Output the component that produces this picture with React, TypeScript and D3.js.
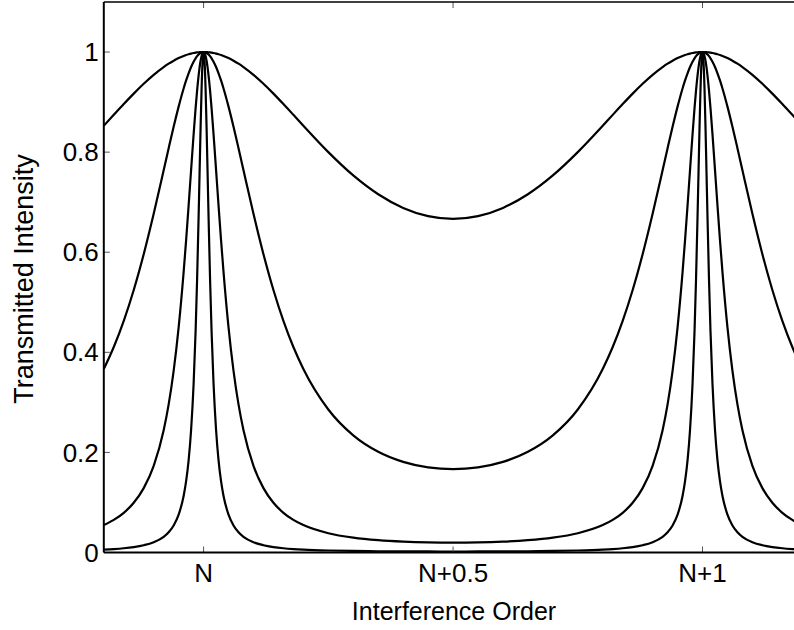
import React from "react";
import * as d3 from "d3";

// Interference orders where the transmission peaks sit
const peakOrders = [0, 1];
// Distance from the nearest peak (in orders) at which values were read
const offsets = [0, 0.001, 0.002, 0.004, 0.006, 0.008, 0.01, 0.013, 0.016, 0.02, 0.025, 0.03, 0.035, 0.04, 0.05, 0.06, 0.07, 0.08, 0.1, 0.12, 0.14, 0.16, 0.18, 0.2, 0.25, 0.3, 0.35, 0.4, 0.45, 0.5];
// Transmitted intensity at each offset, one profile per curve
const curveA = [1, 1, 0.99998, 0.99992, 0.99982, 0.99968, 0.99951, 0.99917, 0.99874, 0.99803, 0.99693, 0.99559, 0.99401, 0.99221, 0.98791, 0.98275, 0.97676, 0.97, 0.95443, 0.93654, 0.91689, 0.89602, 0.87447, 0.8527, 0.8, 0.75344, 0.71585, 0.68858, 0.67215, 0.66667];
const curveB = [1, 0.99995, 0.9998, 0.99921, 0.99823, 0.99685, 0.99509, 0.99173, 0.98753, 0.98067, 0.97014, 0.9576, 0.94321, 0.92718, 0.89098, 0.85066, 0.8078, 0.7638, 0.67684, 0.5961, 0.52454, 0.46287, 0.41059, 0.36664, 0.28571, 0.23405, 0.20123, 0.18108, 0.17014, 0.16667];
const curveC = [1, 0.99951, 0.99803, 0.99217, 0.98254, 0.96939, 0.95299, 0.92306, 0.88792, 0.83533, 0.76465, 0.69309, 0.62418, 0.5601, 0.44972, 0.3629, 0.29592, 0.24436, 0.17317, 0.1286, 0.09936, 0.07934, 0.06512, 0.05472, 0.03846, 0.02965, 0.02457, 0.02163, 0.02009, 0.01961];
const curveD = [1, 0.99509, 0.98064, 0.92683, 0.84915, 0.76002, 0.66966, 0.54539, 0.44204, 0.33655, 0.24522, 0.18422, 0.14243, 0.11294, 0.07555, 0.05389, 0.04033, 0.03132, 0.02051, 0.01454, 0.01091, 0.00854, 0.00692, 0.00576, 0.00398, 0.00305, 0.00251, 0.00221, 0.00205, 0.002];
const curves = [curveA, curveB, curveC, curveD];

const xTickValues = [0, 0.5, 1];
const xTickLabels = ["N", "N+0.5", "N+1"];
const yTickValues = [0, 0.2, 0.4, 0.6, 0.8, 1];
const yTickLabels = ["0", "0.2", "0.4", "0.6", "0.8", "1"];

const W = 794;
const H = 630;
const left = 103.8;
const right = 802.3;
const top = 2;
const bottom = 552.5;
const font = "'Liberation Sans', Arial, Helvetica, sans-serif";

export default function App() {
  const x = d3.scaleLinear().domain([-0.2, 1.2]).range([left, right]);
  const y = d3.scaleLinear().domain([0, 1.1]).range([bottom, top]);
  const [x0, x1] = x.domain();

  const series = curves.map((vals) => {
    const pts: [number, number][] = [];
    const seen = new Set<string>();
    peakOrders.forEach((p) => {
      offsets.forEach((d, i) => {
        [p - d, p + d].forEach((xv) => {
          const key = xv.toFixed(5);
          if (xv >= x0 - 1e-9 && xv <= x1 + 1e-9 && !seen.has(key)) {
            seen.add(key);
            pts.push([xv, vals[i]]);
          }
        });
      });
    });
    pts.sort((a, b) => a[0] - b[0]);
    return pts;
  });

  const line = d3
    .line<[number, number]>()
    .x((d) => x(d[0]))
    .y((d) => y(d[1]))
    .curve(d3.curveMonotoneX);

  return (
    <svg
      width={W}
      height={H}
      style={{ position: "absolute", left: 0, top: 0, background: "#fff" }}
      fontFamily={font}
    >
      <defs>
        <clipPath id="plot">
          <rect x={left} y={top} width={right - left} height={bottom - top} />
        </clipPath>
      </defs>
      <rect width={W} height={H} fill="#fff" />
      <g clipPath="url(#plot)">
        {series.map((pts, i) => (
          <path key={i} d={line(pts) || ""} fill="none" stroke="#000" strokeWidth={2.2} strokeLinejoin="round" />
        ))}
      </g>
      {/* ticks */}
      {yTickValues.map((v) => (
        <line key={"yt" + v} x1={left} x2={left + 6} y1={y(v)} y2={y(v)} stroke="#555" strokeWidth={1} />
      ))}
      {xTickValues.map((v) => (
        <g key={"xt" + v}>
          <line x1={x(v)} x2={x(v)} y1={bottom} y2={bottom - 6} stroke="#555" strokeWidth={1} />
          <line x1={x(v)} x2={x(v)} y1={top} y2={top + 6} stroke="#555" strokeWidth={1} />
        </g>
      ))}
      {/* axes */}
      <line x1={left} x2={right} y1={top} y2={top} stroke="#000" strokeWidth={1.4} />
      <line x1={left} x2={right} y1={bottom} y2={bottom} stroke="#000" strokeWidth={2} />
      <line x1={left} x2={left} y1={top} y2={bottom} stroke="#000" strokeWidth={2} />
      {/* tick labels */}
      {yTickValues.map((v, i) => (
        <text key={"yl" + v} x={left - 5} y={y(v)} dy="0.35em" textAnchor="end" fontSize={26} fill="#000">
          {yTickLabels[i]}
        </text>
      ))}
      {xTickValues.map((v, i) => (
        <text key={"xl" + v} x={x(v)} y={582} textAnchor="middle" fontSize={26} fill="#000">
          {xTickLabels[i]}
        </text>
      ))}
      <text x={454} y={620} textAnchor="middle" fontSize={25} fill="#000">
        Interference Order
      </text>
      <text transform={`translate(33,279) rotate(-90)`} textAnchor="middle" fontSize={27} fill="#000">
        Transmitted Intensity
      </text>
    </svg>
  );
}
